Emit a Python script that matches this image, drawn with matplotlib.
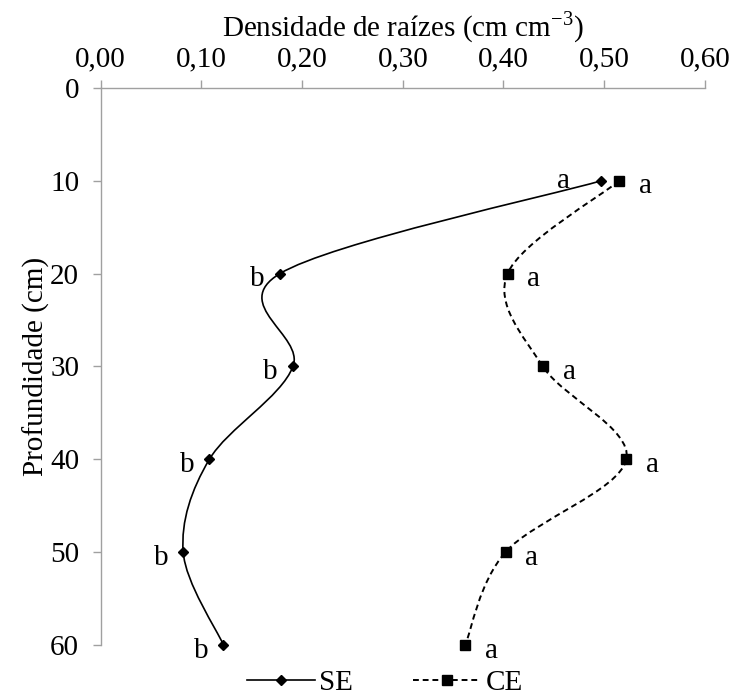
import matplotlib
matplotlib.use("Agg")
import matplotlib.pyplot as plt
from matplotlib.path import Path
from matplotlib.patches import PathPatch
from matplotlib.lines import Line2D
from matplotlib.ticker import FuncFormatter

plt.rcParams.update({
    "font.family": "Liberation Serif",
    "mathtext.fontset": "custom",
    "mathtext.rm": "Liberation Serif",
    "font.size": 21,
})

# Data
depth = [10, 20, 30, 40, 50, 60]
se = [0.497, 0.178, 0.191, 0.108, 0.082, 0.122]
ce = [0.515, 0.404, 0.439, 0.522, 0.402, 0.362]
se_letters = ['a', 'b', 'b', 'b', 'b', 'b']
ce_letters = ['a', 'a', 'a', 'a', 'a', 'a']


def smooth_path(xs, ys):
    """Excel-like smoothed line (Catmull-Rom as cubic Bezier)."""
    pts = list(zip(xs, ys))
    n = len(pts)
    verts = [pts[0]]
    codes = [Path.MOVETO]
    for i in range(n - 1):
        p0 = pts[max(i - 1, 0)]
        p1 = pts[i]
        p2 = pts[i + 1]
        p3 = pts[min(i + 2, n - 1)]
        c1 = (p1[0] + (p2[0] - p0[0]) / 6, p1[1] + (p2[1] - p0[1]) / 6)
        c2 = (p2[0] - (p3[0] - p1[0]) / 6, p2[1] - (p3[1] - p1[1]) / 6)
        verts += [c1, c2, p2]
        codes += [Path.CURVE4] * 3
    return Path(verts, codes)


fig = plt.figure(figsize=(7.29, 6.98), dpi=100)
ax = fig.add_axes([0.138, 0.076, 0.829, 0.798])

ax.add_patch(PathPatch(smooth_path(se, depth), fill=False, color='black', lw=1.2,
                       clip_on=False))
ax.add_patch(PathPatch(smooth_path(ce, depth), fill=False, color='black', lw=1.4,
                       linestyle=(0, (3, 2)), clip_on=False))
ax.plot(se, depth, linestyle='none', marker='D', ms=5.5, color='black', clip_on=False)
ax.plot(ce, depth, linestyle='none', marker='s', ms=7, color='black', clip_on=False)

# Significance letters
for i, (x, y) in enumerate(zip(se, depth)):
    off = (-27, 0) if i == 0 else (-16, -4)
    ax.annotate(se_letters[i], (x, y), xytext=off, textcoords='offset points',
                ha='center', va='center', fontsize=21)
for x, y, t in zip(ce, depth, ce_letters):
    ax.annotate(t, (x, y), xytext=(19, -4), textcoords='offset points',
                ha='center', va='center', fontsize=21)

ax.set_xlim(0, 0.6)
ax.set_ylim(60, 0)
ax.set_xticks([0, 0.1, 0.2, 0.3, 0.4, 0.5, 0.6])
ax.set_yticks(range(0, 61, 10))
ax.xaxis.set_major_formatter(FuncFormatter(lambda v, p: f'{v:.2f}'.replace('.', ',')))

ax.xaxis.tick_top()
ax.xaxis.set_label_position('top')
ax.set_xlabel('Densidade de raízes (cm cm$^{-3}$)', fontsize=21, labelpad=7)
ax.set_ylabel('Profundidade (cm)', fontsize=21, labelpad=0)

for s in ['bottom', 'right']:
    ax.spines[s].set_visible(False)
for s in ['top', 'left']:
    ax.spines[s].set_color('#a0a0a0')
    ax.spines[s].set_linewidth(1.0)
ax.tick_params(axis='both', direction='out', length=5.5, width=1.0, color='#a0a0a0',
               labelsize=21)
ax.tick_params(axis='x', pad=6)
ax.tick_params(axis='y', pad=10)

handles = [
    Line2D([], [], color='black', lw=1.2, marker='D', ms=5.5),
    Line2D([], [], color='black', lw=1.4, linestyle=(0, (3, 2)), marker='s', ms=7),
]
fig.legend(handles, ['SE', 'CE'], loc='center', ncol=2, frameon=False,
           bbox_to_anchor=(0.528, 0.022), handlelength=2.33, handletextpad=0.15,
           columnspacing=2.05, fontsize=21, borderpad=0)

fig.savefig('out.png', dpi=100, facecolor='white')
